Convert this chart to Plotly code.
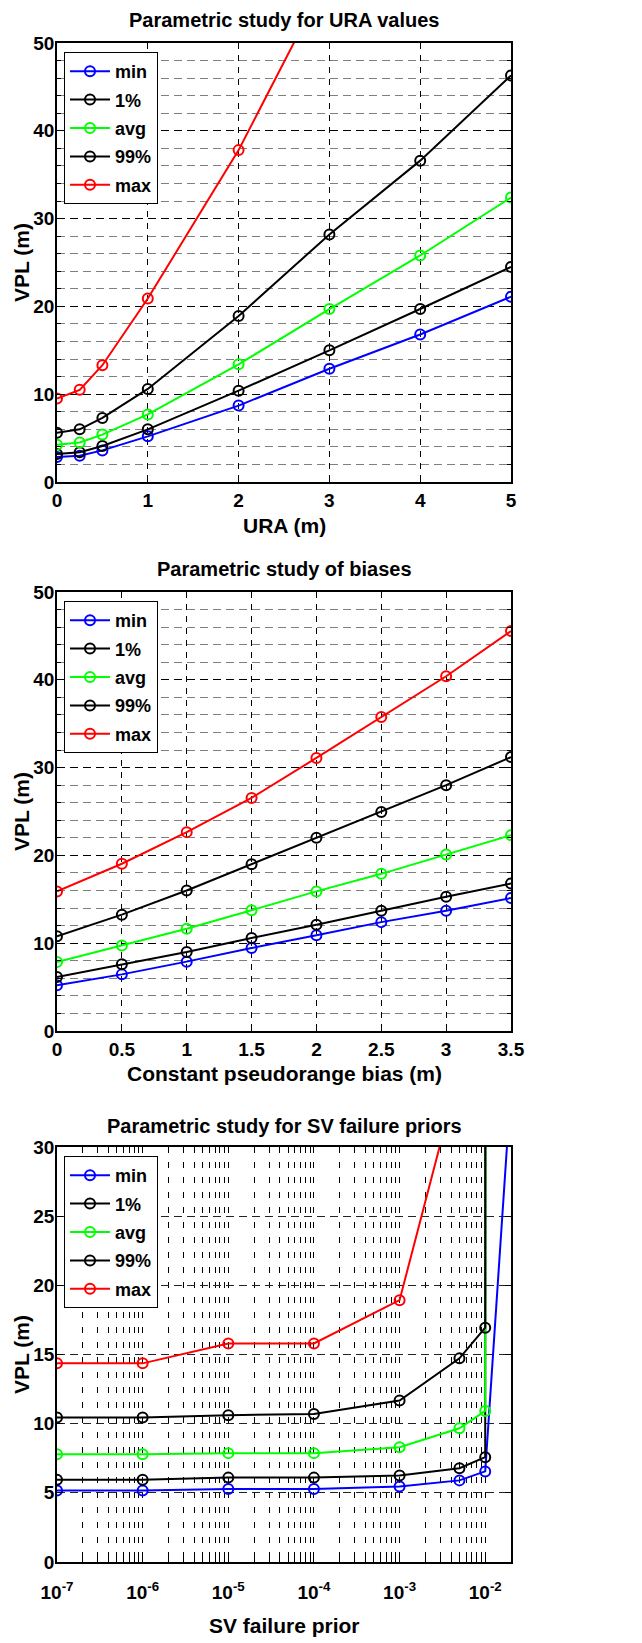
import plotly.graph_objects as go

# ---------------- data ----------------
series_names = ["min", "1%", "avg", "99%", "max"]
series_colors = ["#0000FF", "#000000", "#00FF00", "#000000", "#FF0000"]

ura_x = [0, 0.25, 0.5, 1, 2, 3, 4, 5]
ura_min = [2.85, 3.0, 3.6, 5.2, 8.7, 12.9, 16.8, 21.1]
ura_p1 = [3.2, 3.4, 4.1, 6.0, 10.4, 15.0, 19.7, 24.5]
ura_avg = [4.25, 4.5, 5.4, 7.7, 13.4, 19.7, 25.8, 32.4]
ura_p99 = [5.6, 6.0, 7.3, 10.6, 18.9, 28.2, 36.6, 46.3]
ura_max = [9.5, 10.5, 13.3, 20.9, 37.8, 57.5, 78.0, 98.0]

bias_x = [0, 0.5, 1, 1.5, 2, 2.5, 3, 3.5]
bias_min = [5.2, 6.45, 7.9, 9.45, 10.9, 12.4, 13.7, 15.15]
bias_p1 = [6.15, 7.6, 9.0, 10.6, 12.1, 13.7, 15.3, 16.8]
bias_avg = [7.85, 9.75, 11.65, 13.75, 15.9, 17.9, 20.1, 22.3]
bias_p99 = [10.8, 13.25, 16.0, 19.0, 22.0, 24.95, 28.0, 31.2]
bias_max = [15.9, 19.05, 22.65, 26.55, 31.1, 35.75, 40.4, 45.55]

prior_x = [1e-7, 1e-6, 1e-5, 1e-4, 1e-3, 5e-3, 1e-2, 2e-2]
prior_min = [5.17, 5.17, 5.27, 5.27, 5.46, 5.9, 6.55, 34.4]
prior_p1 = [5.95, 5.95, 6.1, 6.1, 6.25, 6.78, 7.58, 5000]
prior_avg = [7.79, 7.79, 7.87, 7.87, 8.3, 9.67, 10.92, 5000]
prior_p99 = [10.44, 10.44, 10.61, 10.7, 11.67, 14.72, 16.94, 5000]
prior_max = [14.36, 14.36, 15.8, 15.8, 18.93, 35.5, 200, 5000]

prior_decades = [-7, -6, -5, -4, -3, -2]
prior_ticktext = ["10<sup>-7</sup>", "10<sup>-6</sup>", "10<sup>-5</sup>",
                  "10<sup>-4</sup>", "10<sup>-3</sup>", "10<sup>-2</sup>"]

titles = ["Parametric study for URA values", "Parametric study of biases",
          "Parametric study for SV failure priors"]
xtitles = ["URA (m)", "Constant pseudorange bias (m)", "SV failure prior"]
ytitle = "VPL (m)"

# ---------------- styling ----------------
OFF = 8                      # page body margin of the html page
W, H = 642 - OFF, 1643 - OFF  # figure size so that the page fills 642x1643
FONT = "Liberation Sans, Arial, Helvetica, sans-serif"

# plot areas in screen pixels (left, right, top, bottom)
areas = [(57, 511, 43, 482), (57, 511, 592, 1031), (57, 511, 1147, 1562)]

def px(x):
    return (x - OFF) / W

def py(y):
    return 1 - (y - OFF) / H

def xd(a):
    return [px(a[0]), px(a[1])]

def yd(a):
    return [py(a[3]), py(a[2])]

fig = go.Figure()

datasets = [
    (ura_x, [ura_min, ura_p1, ura_avg, ura_p99, ura_max]),
    (bias_x, [bias_min, bias_p1, bias_avg, bias_p99, bias_max]),
    (prior_x, [prior_min, prior_p1, prior_avg, prior_p99, prior_max]),
]

for i, (xs, ys_list) in enumerate(datasets):
    sfx = "" if i == 0 else str(i + 1)
    for k, (name, color, ys) in enumerate(zip(series_names, series_colors, ys_list)):
        fig.add_trace(go.Scatter(
            x=xs, y=ys, name=name, mode="lines+markers",
            line=dict(color=color, width=2),
            marker=dict(symbol="circle-open", size=10, color=color,
                        line=dict(width=2, color=color)),
            xaxis="x" + sfx, yaxis="y" + sfx,
            legend="legend" + sfx, legendgroup="g%d_%d" % (i, k),
        ))

tickfont = dict(family=FONT, size=19, color="black", weight="bold")
axis_common = dict(
    showline=True, linecolor="black", linewidth=1.5, mirror="ticks",
    ticks="inside", ticklen=6, tickcolor="black", tickwidth=1,
    tickfont=tickfont, zeroline=False, automargin=False,
)

layout = dict(
    width=W, height=H, margin=dict(l=0, r=0, t=0, b=0, autoexpand=False),
    paper_bgcolor="white", plot_bgcolor="white", showlegend=True,
)

vgrid = dict(showgrid=True, gridcolor="black", gridwidth=1, griddash="6px,6px")

# plot 1
layout["xaxis"] = dict(domain=xd(areas[0]), anchor="y", range=[0, 5], dtick=1,
                       ticklabelstandoff=0, **vgrid, **axis_common)
layout["yaxis"] = dict(domain=yd(areas[0]), anchor="x", range=[0, 50], dtick=10,
                       showgrid=True, gridcolor="black", gridwidth=1, griddash="8px,5px",
                       ticklabelstandoff=-3,
                       minor=dict(dtick=2, showgrid=True, gridcolor="#7f7f7f",
                                  griddash="8px,5px", ticks="inside", ticklen=4,
                                  tickcolor="black"),
                       **axis_common)
# plot 2
layout["xaxis2"] = dict(domain=xd(areas[1]), anchor="y2", range=[0, 3.5], dtick=0.5,
                        ticklabelstandoff=0, **vgrid, **axis_common)
layout["yaxis2"] = dict(domain=yd(areas[1]), anchor="x2", range=[0, 50], dtick=10,
                        showgrid=True, gridcolor="black", gridwidth=1, griddash="8px,5px",
                        ticklabelstandoff=-3,
                        minor=dict(dtick=2, showgrid=True, gridcolor="#7f7f7f",
                                   griddash="8px,5px", ticks="inside", ticklen=4,
                                   tickcolor="black"),
                        **axis_common)
# plot 3 (log x)
major_vals = [10.0 ** d for d in prior_decades]
minor_vals = []
for d in prior_decades:
    for m in range(2, 10):
        v = m * 10.0 ** d
        if v < 0.0201:
            minor_vals.append(v)
layout["xaxis3"] = dict(domain=xd(areas[2]), anchor="y3", type="log",
                        range=[-7, -1.699], tickmode="array",
                        tickvals=major_vals, ticktext=prior_ticktext,
                        ticklabelstandoff=12,
                        showgrid=True, gridcolor="black", gridwidth=1,
                        griddash="6px,9px",
                        minor=dict(tickmode="array", tickvals=minor_vals,
                                   showgrid=True, gridcolor="black", gridwidth=1,
                                   griddash="6px,9px", ticks="inside", ticklen=5,
                                   tickcolor="black"),
                        **axis_common)
layout["yaxis3"] = dict(domain=yd(areas[2]), anchor="x3", range=[0, 30], dtick=5,
                        showgrid=True, gridcolor="#222222", gridwidth=1,
                        griddash="8px,5px", ticklabelstandoff=-3, **axis_common)

legend_tops = [52, 601, 1156]
for i, top in enumerate(legend_tops):
    key = "legend" if i == 0 else "legend%d" % (i + 1)
    layout[key] = dict(
        x=px(64), y=py(top), xanchor="left", yanchor="top",
        bgcolor="white", bordercolor="black", borderwidth=1,
        font=dict(family=FONT, size=18, color="black", weight="bold"),
        itemwidth=40, tracegroupgap=2,
    )

annotations = []
title_y = [20, 569, 1126]
xtitle_y = [525, 1073, 1625]
for i in range(3):
    a = areas[i]
    cx = px((a[0] + a[1]) / 2)
    annotations.append(dict(
        text=titles[i], x=cx, y=py(title_y[i]), xref="paper", yref="paper",
        xanchor="center", yanchor="middle", showarrow=False,
        font=dict(family=FONT, size=20, color="black", weight="bold")))
    annotations.append(dict(
        text=xtitles[i], x=cx, y=py(xtitle_y[i]), xref="paper", yref="paper",
        xanchor="center", yanchor="middle", showarrow=False,
        font=dict(family=FONT, size=21, color="black", weight="bold")))
    annotations.append(dict(
        text=ytitle, x=px(8), y=py((a[2] + a[3]) / 2), xref="paper", yref="paper",
        xanchor="left", yanchor="middle", showarrow=False, textangle=-90,
        font=dict(family=FONT, size=21, color="black", weight="bold")))
layout["annotations"] = annotations

fig.update_layout(**layout)
fig.write_html("out.html")
